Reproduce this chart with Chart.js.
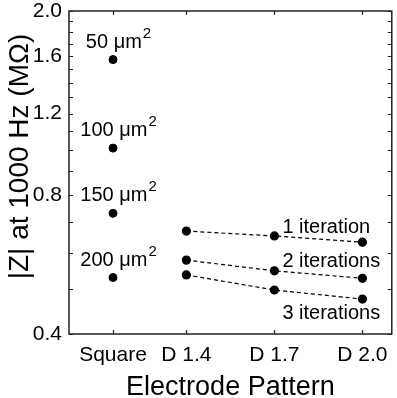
<!DOCTYPE html>
<html>
<head>
<meta charset="utf-8">
<script src="https://cdn.jsdelivr.net/npm/chart.js@4.4.1/dist/chart.umd.min.js"></script>
<style>
  html, body { margin: 0; padding: 0; background: #fff; }
  #wrap { width: 397px; height: 398px; }
</style>
</head>
<body>
<div id="wrap"><canvas id="myChart"></canvas></div>
<script>
// electrode patterns and where they sit on the x axis
const categories = ['Square', 'D 1.4', 'D 1.7', 'D 2.0'];
const categoryX = [1.15, 1.4, 1.7, 2.0];

// square electrodes, one per area
const squareAreas = ['50', '100', '150', '200'];
const squareValues = [1.57, 1.01, 0.73, 0.53];

// fractal patterns D 1.4 / 1.7 / 2.0
const iterationNames = ['1 iteration', '2 iterations', '3 iterations'];
const iter1 = [0.668, 0.652, 0.632];
const iter2 = [0.578, 0.548, 0.528];
const iter3 = [0.537, 0.498, 0.476];

const yTicks = [0.4, 0.8, 1.2, 1.6, 2.0];
const yMinor = [0.4, 0.5, 0.6, 0.7, 0.8, 0.9, 1.0, 1.1, 1.2, 1.3, 1.4, 1.5, 1.6, 1.7, 1.8, 1.9, 2.0];
const yTitle = '|Z| at 1000 Hz (MΩ)';

const FONT = "'Liberation Sans', Arial, sans-serif";

function pts(vals) {
  return vals.map((v, i) => ({ x: categoryX[i + 1], y: v }));
}

const frame = {
  id: 'frame',
  afterDatasetsDraw(chart) {
    const { ctx, chartArea: a, scales: { x, y } } = chart;
    ctx.save();
    ctx.strokeStyle = '#222';
    ctx.lineWidth = 1.5;
    ctx.strokeRect(a.left, a.top, a.right - a.left, a.bottom - a.top);
    ctx.lineWidth = 1.2;
    ctx.beginPath();
    yMinor.forEach(v => {
      const py = Math.round(y.getPixelForValue(v)) + 0.5;
      ctx.moveTo(a.left, py); ctx.lineTo(a.left + 4, py);
      ctx.moveTo(a.right, py); ctx.lineTo(a.right - 4, py);
    });
    categoryX.forEach(v => {
      const px = Math.round(x.getPixelForValue(v)) + 0.5;
      ctx.moveTo(px, a.top); ctx.lineTo(px, a.top + 4);
      ctx.moveTo(px, a.bottom); ctx.lineTo(px, a.bottom - 4);
    });
    ctx.stroke();

    ctx.fillStyle = '#000';

    // y axis title, sits a little above the middle in the original
    ctx.save();
    ctx.translate(20, (a.top + a.bottom) / 2 - 16);
    ctx.rotate(-Math.PI / 2);
    ctx.font = '28px ' + FONT;
    ctx.textAlign = 'center';
    ctx.textBaseline = 'middle';
    ctx.fillText(yTitle, 0, 0);
    ctx.restore();

    // labels
    ctx.textBaseline = 'alphabetic';
    squareAreas.forEach((s, i) => {
      const px = x.getPixelForValue(categoryX[0]);
      const py = y.getPixelForValue(squareValues[i]);
      ctx.font = '20px ' + FONT;
      const main = s + ' μm';
      const w1 = ctx.measureText(main).width;
      ctx.font = '15px ' + FONT;
      const w2 = ctx.measureText('2').width;
      const left = px + 5 - (w1 + w2) / 2;
      ctx.font = '20px ' + FONT;
      ctx.textAlign = 'left';
      ctx.fillText(main, left, py - 12);
      ctx.font = '15px ' + FONT;
      ctx.fillText('2', left + w1 + 1, py - 22);
    });
    const iterSets = [iter1, iter2, iter3];
    const dy = [-3, -4, 29];
    ctx.font = '20px ' + FONT;
    ctx.textAlign = 'left';
    iterationNames.forEach((n, i) => {
      const px = x.getPixelForValue(categoryX[2]);
      const py = y.getPixelForValue(iterSets[i][1]);
      ctx.fillText(n, px + 8, py + dy[i]);
    });
    ctx.restore();
  }
};

const dot = { pointRadius: 4, pointHoverRadius: 4, pointBackgroundColor: '#000', pointBorderColor: '#000', borderColor: '#000' };

new Chart(document.getElementById('myChart'), {
  type: 'line',
  data: {
    datasets: [
      Object.assign({ label: 'Square', data: squareValues.map(v => ({ x: categoryX[0], y: v })), showLine: false }, dot),
      Object.assign({ label: iterationNames[0], data: pts(iter1), borderWidth: 1.2, borderDash: [4, 3] }, dot),
      Object.assign({ label: iterationNames[1], data: pts(iter2), borderWidth: 1.2, borderDash: [4, 3] }, dot),
      Object.assign({ label: iterationNames[2], data: pts(iter3), borderWidth: 1.2, borderDash: [4, 3] }, dot)
    ]
  },
  options: {
    responsive: true,
    maintainAspectRatio: false,
    animation: false,
    layout: { padding: { top: 0, right: 4, left: 0, bottom: 0 } },
    plugins: { legend: { display: false }, tooltip: { enabled: false } },
    scales: {
      x: {
        type: 'linear',
        min: 1.0,
        max: 2.1,
        afterBuildTicks: s => { s.ticks = categoryX.map(v => ({ value: v })); },
        afterFit: s => { s.height = 64; },
        grid: { display: false, drawTicks: false },
        border: { display: false },
        ticks: {
          autoSkip: false, maxRotation: 0, padding: 9, color: '#000',
          font: { family: FONT, size: 21 },
          callback: v => categories[categoryX.indexOf(v)]
        },
        title: { display: true, text: 'Electrode Pattern', color: '#000', font: { family: FONT, size: 27 }, padding: { top: 0, bottom: -6 } }
      },
      y: {
        type: 'logarithmic',
        min: 0.4,
        max: 2.0,
        afterBuildTicks: s => { s.ticks = yTicks.map(v => ({ value: v })); },
        afterFit: s => { s.width = 69; s.paddingTop = 11; s.paddingBottom = 0; },
        grid: { display: false, drawTicks: false },
        border: { display: false },
        ticks: {
          padding: 7, color: '#000',
          font: { family: FONT, size: 21, lineHeight: 1 },
          callback: v => v.toFixed(1)
        }
      }
    }
  },
  plugins: [frame]
});
</script>
</body>
</html>
